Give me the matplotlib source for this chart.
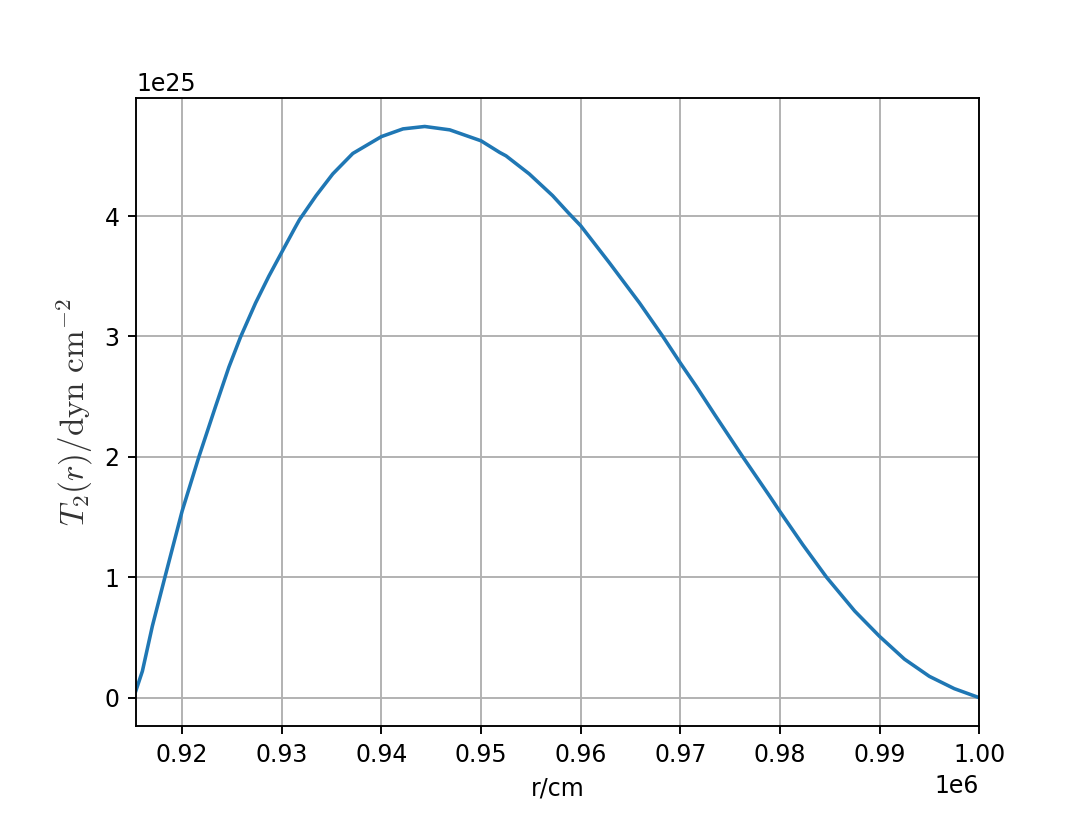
import numpy as np
import matplotlib
matplotlib.use("Agg")
import matplotlib.pyplot as plt

plt.rcParams["mathtext.fontset"] = "cm"

# radius (units of 1e6 cm) and T2 (units of 1e25 dyn cm^-2)
r = np.array([0.91537, 0.91601, 0.91701, 0.91827, 0.92, 0.92168, 0.92336, 0.92469,
              0.92586, 0.92737, 0.9287, 0.93, 0.93131, 0.93178, 0.93345, 0.93512,
              0.93713, 0.94, 0.94217, 0.94435, 0.94686, 0.95, 0.95188, 0.95251,
              0.95484, 0.95718, 0.95873, 0.96, 0.9629, 0.96591, 0.96825, 0.97,
              0.9716, 0.9735, 0.97619, 0.979, 0.98, 0.9823, 0.98468, 0.9875,
              0.99, 0.9925, 0.995, 0.9975, 1.0]) * 1e6
t2 = np.array([0.06, 0.22, 0.594, 1.0, 1.55, 2.0, 2.42, 2.745,
               2.995, 3.278, 3.50, 3.70, 3.90, 3.97, 4.17, 4.35,
               4.52, 4.66, 4.724, 4.744, 4.716, 4.625, 4.528, 4.50,
               4.35, 4.17, 4.03, 3.92, 3.61, 3.278, 3.0, 2.78,
               2.586, 2.345, 2.01, 1.67, 1.546, 1.27, 1.0, 0.72,
               0.509, 0.32, 0.177, 0.075, 0.0]) * 1e25

fig, ax = plt.subplots(figsize=(6.4, 4.8), dpi=170)
ax.plot(r, t2)
ax.set_xlim(r[0], r[-1])
ax.grid(True)
ax.set_xlabel("r/cm")
ax.set_ylabel(r"$T_2(r)/\mathrm{dyn\ cm}^{-2}$", fontsize=14, color="#333333")
fig.savefig("out.png", dpi=170)
